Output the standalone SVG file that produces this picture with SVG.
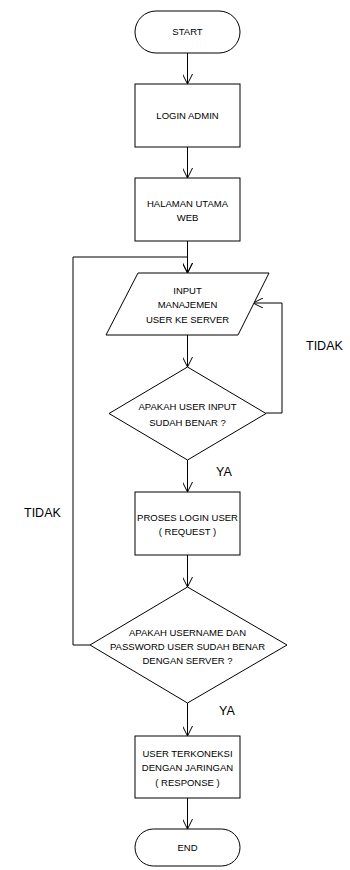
<svg xmlns="http://www.w3.org/2000/svg" width="350" height="870" viewBox="0 0 350 870">
<style>
.s{fill:#fff;stroke:#000;stroke-width:1}
.t{font-family:"Liberation Sans",Arial,sans-serif;font-size:9.5px;text-anchor:middle;fill:#000}
.l{font-family:"Liberation Sans",Arial,sans-serif;font-size:12.5px;fill:#000}
.c{fill:none;stroke:#000;stroke-width:1}
</style>
<defs>
<marker id="a" viewBox="0 0 10 10" refX="10" refY="5" markerWidth="10" markerHeight="10" markerUnits="userSpaceOnUse" orient="auto">
<path d="M0,0 L10,5 L0,10" fill="none" stroke="#000" stroke-width="1"/>
</marker>
</defs>
<g id="connectors">
<path class="c" d="M187.5,53 V84" marker-end="url(#a)"/>
<path class="c" d="M187.5,147 V178" marker-end="url(#a)"/>
<path class="c" d="M187.5,241 V273" marker-end="url(#a)"/>
<path class="c" d="M187.5,335 V367" marker-end="url(#a)"/>
<path class="c" d="M266,413 H282 V303 H253" marker-end="url(#a)"/>
<path class="c" d="M187.5,460 V492" marker-end="url(#a)"/>
<path class="c" d="M187.5,555 V587" marker-end="url(#a)"/>
<path class="c" d="M90,645 H73 V257 H187.5 V273" marker-end="url(#a)"/>
<path class="c" d="M187.5,703 V736" marker-end="url(#a)"/>
<path class="c" d="M187.5,798 V829" marker-end="url(#a)"/>
</g>
<g id="start">
<rect class="s" x="135" y="11" width="105" height="42" rx="21"/>
<text class="t" x="187.5" y="35">START</text>
</g>
<g id="login">
<rect class="s" x="135" y="84" width="105" height="63"/>
<text class="t" x="187.5" y="119">LOGIN ADMIN</text>
</g>
<g id="halaman">
<rect class="s" x="135" y="178" width="105" height="63"/>
<text class="t" x="187.5" y="207">HALAMAN UTAMA</text>
<text class="t" x="187.5" y="221">WEB</text>
</g>
<g id="input">
<polygon class="s" points="138,273 269,273 238,335 106,335"/>
<text class="t" x="187.5" y="294">INPUT</text>
<text class="t" x="187.5" y="308">MANAJEMEN</text>
<text class="t" x="187.5" y="323">USER KE SERVER</text>
</g>
<g id="cek1">
<polygon class="s" points="187.5,367 266,413.5 187.5,460 109,413.5"/>
<text class="t" x="187.5" y="410">APAKAH USER INPUT</text>
<text class="t" x="187.5" y="426">SUDAH BENAR ?</text>
</g>
<g id="proses">
<rect class="s" x="135" y="492" width="105" height="63"/>
<text class="t" x="187.5" y="521">PROSES LOGIN USER</text>
<text class="t" x="187.5" y="535">( REQUEST )</text>
</g>
<g id="cek2">
<polygon class="s" points="187.5,587 287,645 187.5,703 90,645"/>
<text class="t" x="187.5" y="636">APAKAH USERNAME DAN</text>
<text class="t" x="187.5" y="650">PASSWORD USER SUDAH BENAR</text>
<text class="t" x="187.5" y="664">DENGAN SERVER ?</text>
</g>
<g id="koneksi">
<rect class="s" x="135" y="736" width="105" height="62"/>
<text class="t" x="187.5" y="757">USER TERKONEKSI</text>
<text class="t" x="187.5" y="771">DENGAN JARINGAN</text>
<text class="t" x="187.5" y="786">( RESPONSE )</text>
</g>
<g id="end">
<rect class="s" x="135" y="829" width="105" height="37" rx="18.5"/>
<text class="t" x="187.5" y="851">END</text>
</g>
<g id="labels">
<text class="l" x="306" y="350">TIDAK</text>
<text class="l" x="216" y="476">YA</text>
<text class="l" x="24" y="517">TIDAK</text>
<text class="l" x="219" y="715">YA</text>
</g>
</svg>
